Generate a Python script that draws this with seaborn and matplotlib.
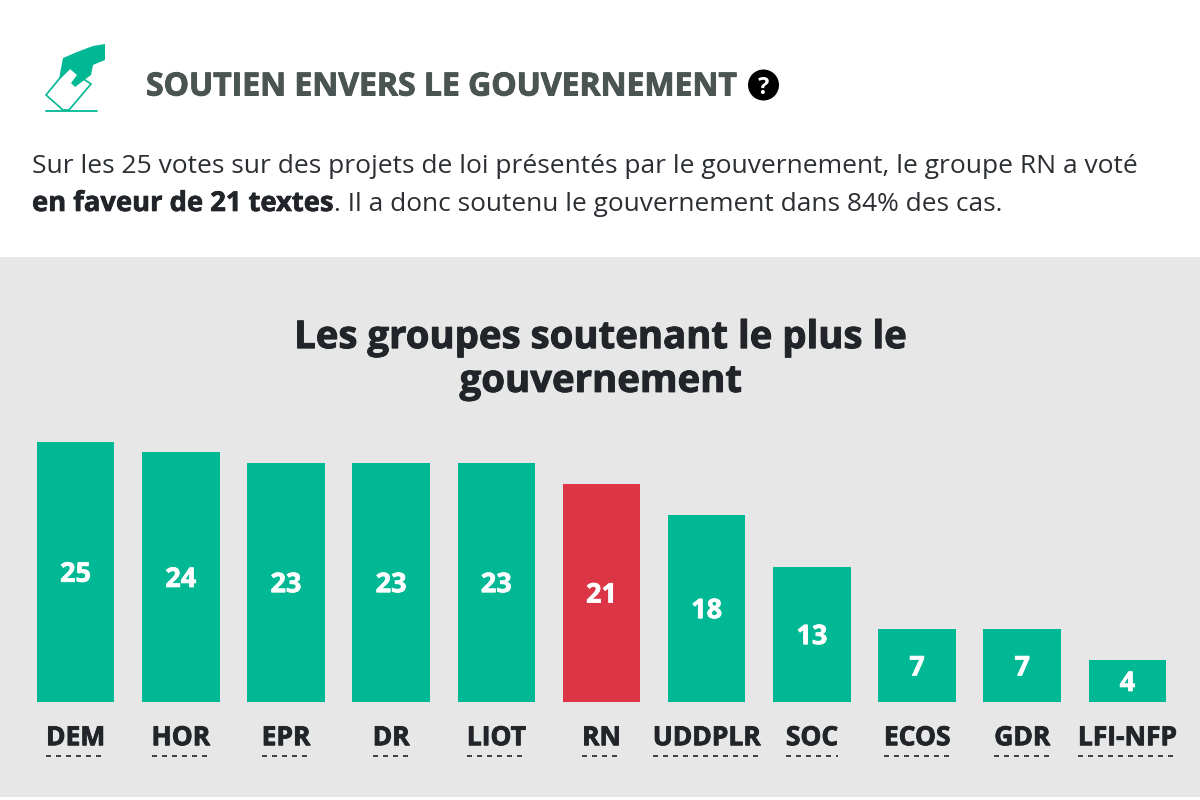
# Load libraries
import pandas as pd
import matplotlib
matplotlib.use('Agg')
import matplotlib.pyplot as plt
import matplotlib.patheffects as pe
import seaborn as sns
from matplotlib.patches import Polygon, Rectangle, Circle

# Chart data
groups = ['DEM', 'HOR', 'EPR', 'DR', 'LIOT', 'RN', 'UDDPLR', 'SOC', 'ECOS', 'GDR', 'LFI-NFP']
votes = [25, 24, 23, 23, 23, 21, 18, 13, 7, 7, 4]
highlight = 'RN'

title = 'SOUTIEN ENVERS LE GOUVERNEMENT'
intro_line1 = 'Sur les 25 votes sur des projets de loi présentés par le gouvernement, le groupe RN a voté'
intro_bold = 'en faveur de 21 textes'
intro_rest = '. Il a donc soutenu le gouvernement dans 84% des cas.'
chart_title = 'Les groupes soutenant le plus le\ngouvernement'

GREEN = '#00b894'
RED = '#dc3545'
PANEL = '#e7e7e7'

sns.set_theme(style='white')
plt.rcParams['font.family'] = ['Open Sans', 'DejaVu Sans']

df = pd.DataFrame({'group': groups, 'votes': votes})
palette = {g: (RED if g == highlight else GREEN) for g in groups}


# Open Sans extra bold is not installed, so thicken the bold with a thin stroke
def heavy(color, width=0.7):
    return [pe.withStroke(linewidth=width, foreground=color)]


fig = plt.figure(figsize=(12, 8), dpi=100, facecolor='white')

# Background layer in pixel coordinates for the header and grey panel
bg = fig.add_axes([0, 0, 1, 1], zorder=0)
bg.set_xlim(0, 1200)
bg.set_ylim(800, 0)
bg.axis('off')
bg.add_patch(Rectangle((0, 257), 1200, 540, color=PANEL, lw=0))

# Ballot icon
bg.add_patch(Polygon([(60, 78), (46, 95), (63, 110), (69, 110), (91, 84), (82, 78), (70, 68)],
                     closed=True, facecolor='white', edgecolor=GREEN, lw=1.2))
bg.add_patch(Polygon([(105, 44), (105, 60), (93, 65), (91, 75), (75, 87), (71, 83),
                      (77, 75), (71, 68), (59, 79), (63, 58), (77, 52), (93, 46)],
                     closed=True, color=GREEN, lw=0))
bg.plot([46, 97], [110.5, 110.5], color=GREEN, lw=1.3)

# Header text
bg.text(146, 83, title, fontsize=23, fontweight='bold', color='#4a5452', va='center_baseline',
        path_effects=heavy('#4a5452'))
bg.add_patch(Circle((763.5, 85), 15.5, color='black', lw=0))
bg.text(763.5, 85, '?', fontsize=17, fontweight='bold', color='white', ha='center', va='center_baseline')

bg.text(32, 173, intro_line1, fontsize=18.98, color='#2b2f33', va='baseline')
bold_txt = bg.text(32, 211, intro_bold, fontsize=19.7, fontweight='bold', color='#212529', va='baseline',
                   path_effects=heavy('#212529', 0.5))
fig.canvas.draw()
box = bold_txt.get_window_extent()
bg.text(box.x1, 211, intro_rest, fontsize=18.9, color='#2b2f33', va='baseline')

bg.text(601, 360, chart_title, fontsize=27.6, fontweight='bold', color='#212529',
        ha='center', va='center', linespacing=1.2, path_effects=heavy('#212529'))

# Bars, placed so the axis runs from baseline to the top of the tallest bar
left = 23
right = 1180
top = 442
base = 702
ax = fig.add_axes([left / 1200, 1 - base / 800, (right - left) / 1200, (base - top) / 800], zorder=1)
ax.patch.set_alpha(0)
sns.barplot(data=df, x='group', y='votes', hue='group', palette=palette, order=groups,
            width=0.737, legend=False, saturation=1, linewidth=0, ax=ax)
ax.set_xlim(-0.5, len(groups) - 0.5)
ax.set_ylim(0, 25)
ax.set_xlabel('')
ax.set_ylabel('')
ax.set_yticks([])
sns.despine(ax=ax, left=True, bottom=True)

# Value labels in the middle of each bar
for i, v in enumerate(votes):
    ax.annotate(str(v), (i, v / 2), xytext=(0, -2), textcoords='offset points', ha='center', va='center',
                color='white', fontsize=19.5, fontweight='bold', path_effects=heavy('white', 0.5))

ax.tick_params(axis='x', length=0, pad=16)
for lab in ax.get_xticklabels():
    lab.set_fontsize(19)
    lab.set_fontweight('bold')
    lab.set_color('#212529')
    lab.set_path_effects(heavy('#212529', 0.6))

# Dashed underline below each group name
fig.canvas.draw()
for lab in ax.get_xticklabels():
    ext = lab.get_window_extent()
    bg.plot([ext.x0, ext.x1], [756, 756], color='#212529', lw=1.2, linestyle=(0, (3, 3)))

fig.savefig('out.png', dpi=100, facecolor='white')
plt.close()
